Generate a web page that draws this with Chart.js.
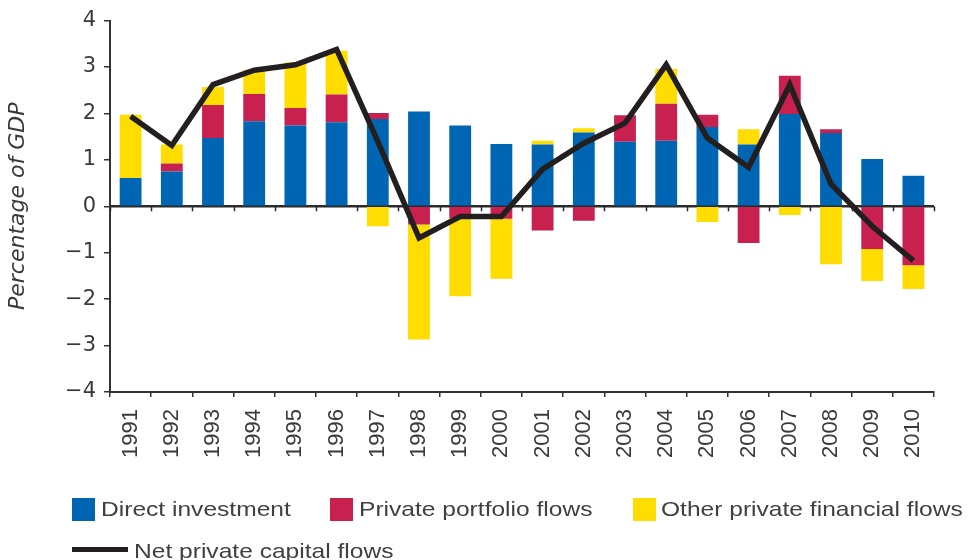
<!DOCTYPE html>
<html>
<head>
<meta charset="utf-8">
<script src="https://cdn.jsdelivr.net/npm/chart.js@4.4.1/dist/chart.umd.min.js"></script>
<style>
    body { margin: 0; background: #fff; }
    #wrap { position: relative; width: 970px; height: 560px; overflow: hidden; font-family: "Liberation Sans", Arial, sans-serif; color: #404040; }
    #wrap canvas { position: absolute; left: 0; top: 0; }
    .sw { position: absolute; top: 498px; width: 23px; height: 23px; }
    .txt { position: absolute; font-size: 21px; line-height: 21px; white-space: nowrap; transform: scaleX(1.17); transform-origin: left top; }
    .ln { position: absolute; left: 72px; top: 547px; width: 56px; height: 5px; background: #231f20; }
</style>
</head>
<body>
<div id="wrap">
    <canvas id="flowsChart" width="970" height="560"></canvas>
    <div class="sw" style="left:72px;background:#0066b3"></div>
    <div class="txt" style="left:101px;top:498px">Direct investment</div>
    <div class="sw" style="left:330px;background:#c8214f"></div>
    <div class="txt" style="left:359px;top:498px">Private portfolio flows</div>
    <div class="sw" style="left:633px;background:#ffdd00"></div>
    <div class="txt" style="left:661px;top:498px">Other private financial flows</div>
    <div class="ln"></div>
    <div class="txt" style="left:134px;top:540px">Net private capital flows</div>
</div>
<script>
const years = ['1991', '1992', '1993', '1994', '1995', '1996', '1997', '1998', '1999', '2000',
               '2001', '2002', '2003', '2004', '2005', '2006', '2007', '2008', '2009', '2010'];

// % of GDP
const direct_investment = [0.61, 0.75, 1.47, 1.83, 1.74, 1.81, 1.88, 2.04, 1.74, 1.34,
                           1.33, 1.59, 1.39, 1.41, 1.71, 1.33, 1.99, 1.58, 1.02, 0.66];
const portfolio_flows = [0, 0.17, 0.71, 0.59, 0.38, 0.60, 0.13, -0.39, -0.25, -0.27,
                         -0.52, -0.31, 0.57, 0.80, 0.26, -0.79, 0.82, 0.08, -0.92, -1.27];
const other_flows = [1.36, 0.41, 0.39, 0.52, 0.98, 0.94, -0.43, -2.48, -1.69, -1.29,
                     0.08, 0.09, 0, 0.75, -0.34, 0.33, -0.19, -1.25, -0.69, -0.51];
const net_flows = [1.94, 1.31, 2.62, 2.93, 3.05, 3.38, 1.40, -0.68, -0.22, -0.22,
                   0.80, 1.36, 1.79, 3.05, 1.47, 0.84, 2.62, 0.48, -0.43, -1.17];

const y_ticks = [-4, -3, -2, -1, 0, 1, 2, 3, 4];

// dark line through zero with little ticks hanging under it
const zeroLine = {
    id: 'zeroLine',
    beforeDatasetsDraw(chart) {
        const x = chart.scales.x;
        const y = chart.scales.y;
        const ctx = chart.ctx;
        const y0 = y.getPixelForValue(0);
        ctx.save();
        ctx.strokeStyle = '#2b2b2b';
        ctx.lineWidth = 2.5;
        ctx.beginPath();
        ctx.moveTo(x.left, y0);
        ctx.lineTo(x.right, y0);
        ctx.stroke();
        ctx.lineWidth = 1.5;
        const step = (x.right - x.left) / years.length;
        for (let i = 0; i <= years.length; i++) {
            const px = Math.round(x.left + i * step) + 0.5;
            ctx.beginPath();
            ctx.moveTo(px, y0);
            ctx.lineTo(px, y0 + 5);
            ctx.stroke();
        }
        ctx.restore();
    }
};

new Chart('flowsChart', {
    data: {
        labels: years,
        datasets: [
            { type: 'line', data: net_flows, stack: 'net', borderColor: '#231f20', borderWidth: 5.5,
              pointRadius: 0, tension: 0, borderJoinStyle: 'miter', order: 0 },
            { type: 'bar', data: direct_investment, backgroundColor: '#0066b3', stack: 'flows', order: 1 },
            { type: 'bar', data: portfolio_flows, backgroundColor: '#c8214f', stack: 'flows', order: 1 },
            { type: 'bar', data: other_flows, backgroundColor: '#ffdd00', stack: 'flows', order: 1 }
        ]
    },
    options: {
        responsive: false,
        animation: false,
        devicePixelRatio: 1,
        layout: { padding: { top: 20, right: 36, bottom: 88, left: 0 } },
        datasets: { bar: { categoryPercentage: 1, barPercentage: 0.53 } },
        plugins: { legend: { display: false }, tooltip: { enabled: false } },
        scales: {
            x: {
                stacked: true,
                afterFit: (scale) => { scale.height = 80; },
                grid: { drawOnChartArea: false, offset: true, tickLength: 5, color: '#333', lineWidth: 1.5 },
                border: { color: '#333', width: 2 },
                ticks: { minRotation: 90, maxRotation: 90, padding: 12, color: '#3a3a3a',
                         font: { family: '"Liberation Sans", Arial, sans-serif', size: 22 } }
            },
            y: {
                stacked: true,
                min: -4,
                max: 4,
                afterFit: (scale) => { scale.width = 110; },
                afterBuildTicks: (scale) => { scale.ticks = y_ticks.map((v) => ({ value: v })); },
                grid: { drawOnChartArea: false, tickLength: 6, color: '#333', lineWidth: 1.5 },
                border: { color: '#333', width: 2 },
                ticks: {
                    padding: 8,
                    color: '#3a3a3a',
                    font: { family: '"DejaVu Sans", sans-serif', size: 21 },
                    callback: (v) => v < 0 ? '\u2212' + Math.abs(v) : String(v)
                },
                title: {
                    display: true,
                    text: 'Percentage of GDP',
                    color: '#3a3a3a',
                    padding: { top: 5, bottom: 4 },
                    font: { family: '"DejaVu Sans", sans-serif', size: 22, style: 'italic' }
                }
            }
        }
    },
    plugins: [zeroLine]
});
</script>
</body>
</html>
